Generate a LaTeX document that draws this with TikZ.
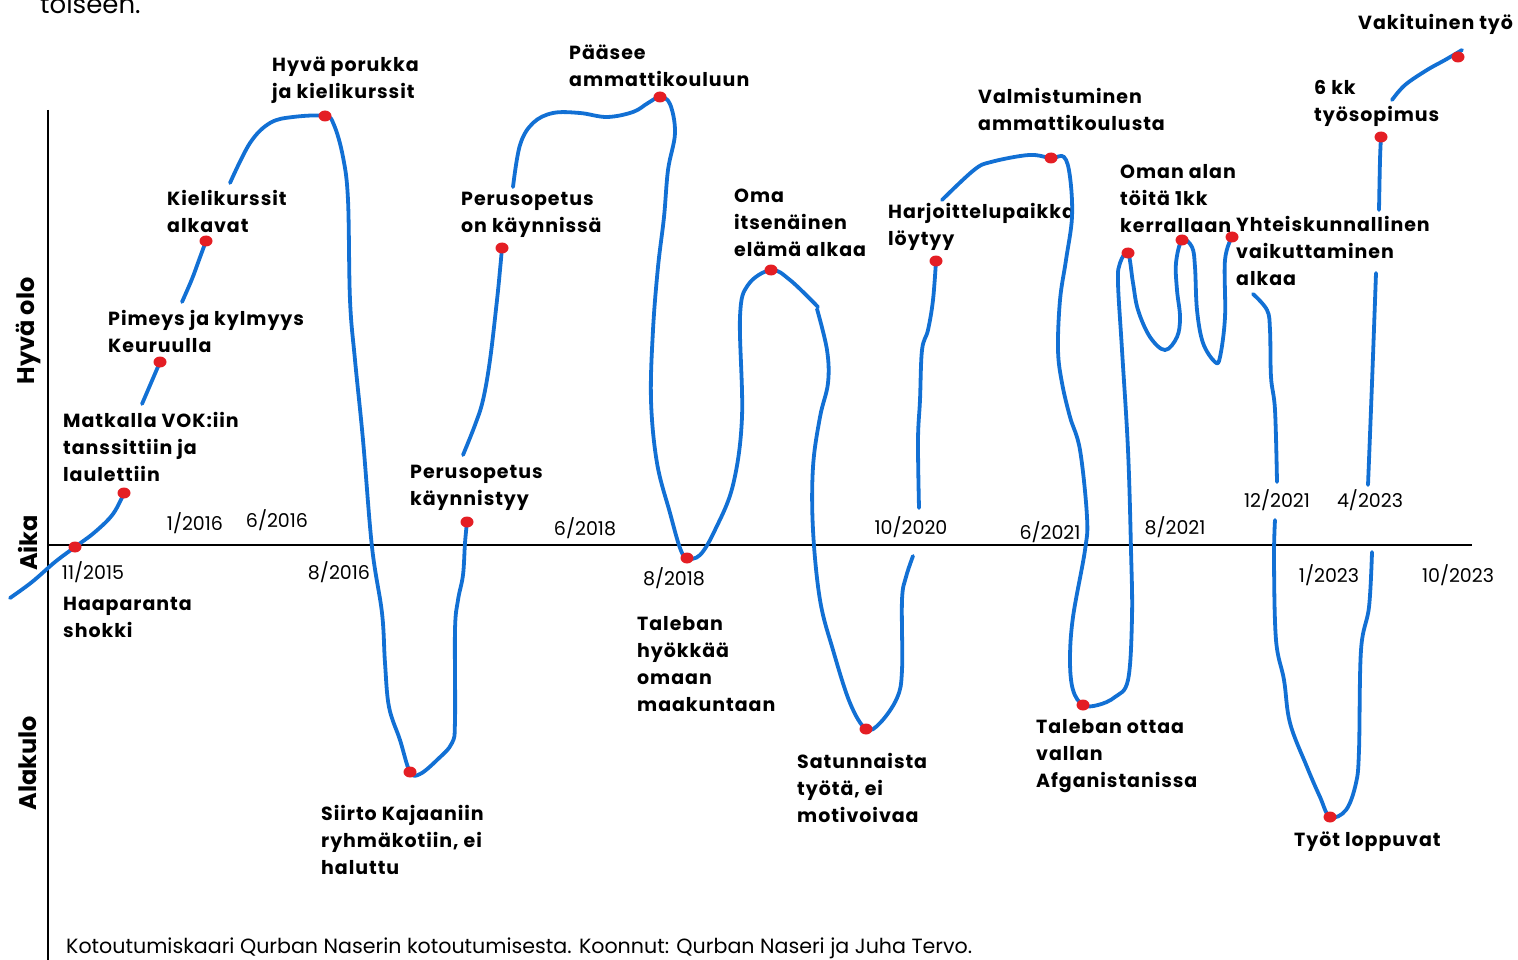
\documentclass[tikz,border=0pt]{standalone}
\usepackage{fontspec}
\setmainfont{Poppins}
\newfontfamily\eventfont{Poppins}[LetterSpace=5.0]
\definecolor{curveblue}{RGB}{18,112,212}
\definecolor{dotred}{RGB}{228,30,36}

\begin{document}
\begin{tikzpicture}[x=1pt,y=-1pt,
    curve/.style={curveblue, line width=3.8pt, line cap=round, line join=round},
    event/.style={anchor=north west, align=left, inner sep=0pt, font=\eventfont\bfseries\fontsize{19}{27}\selectfont},
    datelabel/.style={inner sep=0pt, font=\fontsize{19}{22}\selectfont},
    axislabel/.style={rotate=90, inner sep=0pt, font=\bfseries\fontsize{24}{28}\selectfont}]

\useasboundingbox (0,0) rectangle (1518,960);
\clip (0,0) rectangle (1518,960);

\node[anchor=base west, inner sep=0pt, font=\fontsize{26}{30}\selectfont] (toptext) at (40,14) {toiseen.};

\coordinate (ytop) at (48,110);
\coordinate (ybot) at (48,962);
\coordinate (origin) at (48,545);
\coordinate (xend) at (1472,545);
\draw[line width=2pt] (ytop) -- (ybot);
\draw[line width=2pt] (origin) -- (xend);

\node[axislabel] (good) at (28,331) {Hyvä olo};
\node[axislabel] (time) at (28,543) {Aika};
\node[axislabel] (bad) at (28,763) {Alakulo};

\foreach \x/\y/\txt [count=\i] in {93/572/{11/2015}, 195/523/{1/2016}, 277/520/{6/2016}, 339/572/{8/2016},
    585/528/{6/2018}, 674/578/{8/2018}, 911/527/{10/2020}, 1050/532/{6/2021}, 1175/527/{8/2021},
    1277/500/{12/2021}, 1370/500/{4/2023}, 1329/575/{1/2023}, 1458/575/{10/2023}}{
    \node[datelabel] (date\i) at (\x,\y) {\txt};
}

\foreach \x/\y/\txt [count=\i] in {272/65/{Hyvä porukka\\ja kielikurssit}, 167/198/{Kielikurssit\\alkavat},
    108/318/{Pimeys ja kylmyys\\Keuruulla}, 63/420/{Matkalla VOK:iin\\tanssittiin ja\\laulettiin},
    63/605/{Haaparanta\\shokki}, 321/813/{Siirto Kajaaniin\\ryhmäkotiin, ei\\haluttu},
    410/473/{Perusopetus\\käynnistyy}, 461/200/{Perusopetus\\on käynnissä},
    569/53/{Pääsee\\ammattikouluun}, 637/624/{Taleban\\hyökkää\\omaan\\maakuntaan},
    734/197/{Oma\\itsenäinen\\elämä alkaa}, 797/761/{Satunnaista\\työtä, ei\\motivoivaa},
    888/211/{Harjoittelupaikka\\löytyy}, 978/96/{Valmistuminen\\ammattikoulusta},
    1036/727/{Taleban ottaa\\vallan\\Afganistanissa}, 1120/172/{Oman alan\\töitä 1kk\\kerrallaan},
    1236/224/{Yhteiskunnallinen\\vaikuttaminen\\alkaa}, 1314/88/{6 kk\\työsopimus},
    1358/22/{Vakituinen työ}, 1294/840/{Työt loppuvat}}{
    \node[event] (event\i) at (\x,\y-8) {\txt};
}

\coordinate (d1) at (75,547);
\coordinate (d2) at (124,493);
\coordinate (d3) at (160,362);
\coordinate (d4) at (206,241);
\coordinate (d5) at (325,116);
\coordinate (d6) at (410,772);
\coordinate (d7) at (467,522);
\coordinate (d8) at (502,248);
\coordinate (d9) at (660,97);
\coordinate (d10) at (687,558);
\coordinate (d11) at (771,270);
\coordinate (d12) at (866,729);
\coordinate (d13) at (936,261);
\coordinate (d14) at (1051,158);
\coordinate (d15) at (1083,705);
\coordinate (d16) at (1128,253);
\coordinate (d17) at (1182,240);
\coordinate (d18) at (1232,237);
\coordinate (d19) at (1330,817);
\coordinate (d20) at (1381,137);
\coordinate (d21) at (1458,57);

\draw[curve] plot[smooth, tension=0.6] coordinates {(10,598) (32,582) (55,562) (d1) (95,532) (113,514) (d2)};
\draw[curve] plot[smooth, tension=0.6] coordinates {(142,404) (151,383) (d3)};
\draw[curve] plot[smooth, tension=0.6] coordinates {(182,302) (192,279) (199,260) (d4)};
\draw[curve] plot[smooth, tension=0.6] coordinates {(230,183) (250,143) (270,123) (293,117) (d5) (334,125) (343,157)
    (348,200) (350,300) (355,360) (363,440) (372,547) (382,613) (385,663) (389,707) (400,740) (d6) (420,774)
    (437,760) (452,743) (455,720) (455,630) (458,600) (463,575) (465,543) (d7)};
\draw[curve] plot[smooth, tension=0.6] coordinates {(463,455) (475,425) (483,400) (490,360) (497,300) (500,270) (d8)};
\draw[curve] plot[smooth, tension=0.6] coordinates {(513,187) (520,145) (533,123) (553,113) (580,113) (607,117)
    (633,112) (648,103) (d9) (670,104) (675,133) (668,170) (664,217) (658,267) (653,330) (651,400) (657,463)
    (670,513) (680,548) (d10) (700,555) (715,530) (733,485) (742,417) (740,317) (748,285) (d11) (790,280) (818,307)};
\draw[curve] plot[smooth, tension=0.6] coordinates {(817,309) (827,350) (828,383) (820,417) (813,467) (813,530)
    (820,600) (833,650) (850,703) (d12) (880,723) (897,698) (902,670) (902,600) (906,577) (913,556)};
\draw[curve] plot[smooth, tension=0.6] coordinates {(919,508) (918,440) (920,400) (922,350) (928,330) (933,300) (d13)};
\draw[curve] plot[smooth, tension=0.6] coordinates {(942,200) (974,170) (991,162) (1029,155) (d14) (1064,157)
    (1070,177) (1072,217) (1066,260) (1060,300) (1058,350) (1062,383) (1070,417) (1080,450) (1087,517) (1085,550)
    (1073,617) (1070,660) (1073,690) (d15) (1098,705) (1115,697) (1128,680) (1132,617) (1131,550) (1128,450)
    (1122,350) (1118,283) (1120,263) (d16) (1133,283) (1138,310) (1150,337) (1165,350) (1177,337) (1180,317)
    (1177,290) (1176,263) (d17) (1192,247) (1195,267) (1197,310) (1203,343) (1215,362) (1220,357) (1225,317)
    (1225,260) (d18)};
\draw[curve] plot[smooth, tension=0.6] coordinates {(1253,294) (1267,310) (1270,330) (1271,377) (1275,410) (1277,482)};
\draw[curve] plot[smooth, tension=0.6] coordinates {(1275,520) (1274,560) (1276,640) (1284,680) (1290,723) (1307,767)
    (1320,797) (d19) (1346,810) (1356,783) (1359,750) (1361,650) (1369,607) (1372,552)};
\draw[curve] plot[smooth, tension=0.6] coordinates {(1368,485) (1372,383) (1376,273)};
\draw[curve] plot[smooth, tension=0.6] coordinates {(1379,210) (1380,160) (d20)};
\draw[curve] plot[smooth, tension=0.6] coordinates {(1392,100) (1405,85) (1427,70) (1445,60) (1462,50)};

\foreach \p in {d1,d2,d3,d4,d5,d6,d7,d8,d9,d10,d11,d12,d13,d14,d15,d16,d17,d18,d19,d20,d21}{
    \fill[dotred] (\p) ellipse (6.5 and 5.5);
}

\node[anchor=base west, inner sep=0pt, font=\fontsize{20.6}{24}\selectfont] (footer) at (66,953)
    {Kotoutumiskaari Qurban Naserin kotoutumisesta. Koonnut: Qurban Naseri ja Juha Tervo.};

\end{tikzpicture}
\end{document}
